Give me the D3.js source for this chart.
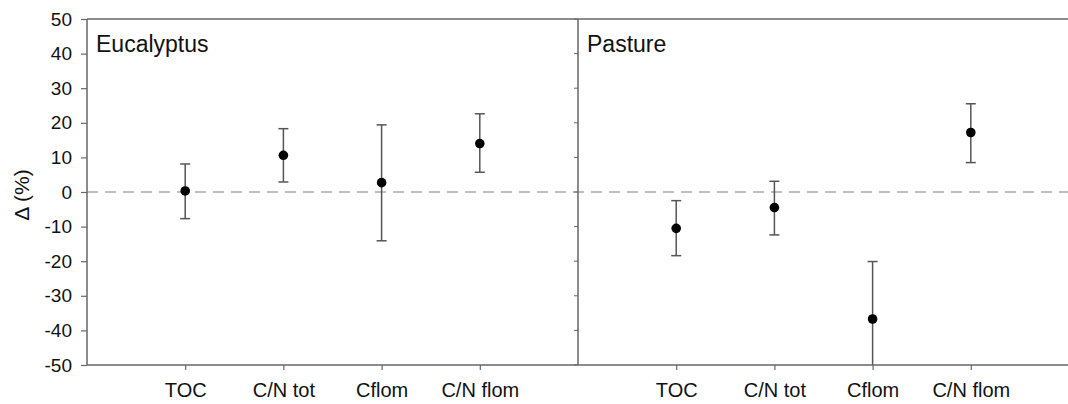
<!DOCTYPE html>
<html>
<head>
<meta charset="utf-8">
<script src="https://cdn.jsdelivr.net/npm/d3@7"></script>
<style>
  body { margin: 0; background: #fff; }
  text { font-family: "Liberation Sans", Arial, sans-serif; fill: #111; }
</style>
</head>
<body>
<svg id="chart" width="1068" height="404"></svg>
<script>
// data
var categories = ['TOC', 'C/N tot', 'Cflom', 'C/N flom'];
var panels = ['Eucalyptus', 'Pasture'];
var eucMean = [0.3, 10.6, 2.7, 14.0];
var eucHigh = [8.1, 18.3, 19.4, 22.6];
var eucLow = [-7.7, 2.9, -14.1, 5.7];
var pasMean = [-10.5, -4.5, -36.7, 17.2];
var pasHigh = [-2.5, 3.1, -20.1, 25.5];
var pasLow = [-18.4, -12.4, -60, 8.5];
var yTicks = [50, 40, 30, 20, 10, 0, -10, -20, -30, -40, -50];

var svg = d3.select('#chart');
var mLeft = 87, mTop = 19, mBottom = 365, panelW = 491;
var axisCol = '#666';
var font = '"Liberation Sans", Arial, sans-serif';

var y = d3.scaleLinear().domain([-50, 50]).range([mBottom, mTop]);

// clip so the long error bar stops at the axis
svg.append('defs').append('clipPath').attr('id', 'plotclip')
  .append('rect').attr('x', mLeft).attr('y', mTop)
  .attr('width', panelW * 2).attr('height', mBottom - mTop);

// zero reference line
svg.append('line')
  .attr('x1', mLeft).attr('x2', mLeft + panelW * 2)
  .attr('y1', y(0)).attr('y2', y(0))
  .attr('stroke', '#aaa').attr('stroke-width', 1.6)
  .attr('stroke-dasharray', '11,7');

var series = [
  {mean: eucMean, hi: eucHigh, lo: eucLow},
  {mean: pasMean, hi: pasHigh, lo: pasLow}
];

panels.forEach(function(name, p){
  var x0 = mLeft + p * panelW;
  var x = d3.scaleLinear().domain([0, 5]).range([x0, x0 + panelW]);
  var g = svg.append('g');

  // bottom axis ticks + labels
  var xa = d3.axisBottom(x).tickValues([1, 2, 3, 4])
    .tickFormat(function(d){ return categories[d - 1]; })
    .tickSize(5).tickPadding(13);
  var ax = g.append('g').attr('transform', 'translate(0,' + mBottom + ')').call(xa);
  ax.select('.domain').remove();
  ax.selectAll('line').attr('stroke', axisCol).attr('stroke-width', 1.2);
  ax.selectAll('text').attr('font-size', 20).attr('fill', '#111')
    .attr('font-family', font);

  // panel title
  g.append('text').attr('x', x0 + 9).attr('y', 52)
    .attr('font-size', 23).text(name);

  var s = series[p];
  var pts = g.append('g').attr('clip-path', 'url(#plotclip)');
  categories.forEach(function(c, i){
    var cx = x(i + 1);
    pts.append('line').attr('x1', cx).attr('x2', cx)
      .attr('y1', y(s.hi[i])).attr('y2', y(s.lo[i]))
      .attr('stroke', '#555').attr('stroke-width', 1.5);
    [s.hi[i], s.lo[i]].forEach(function(v){
      pts.append('line').attr('x1', cx - 5).attr('x2', cx + 5)
        .attr('y1', y(v)).attr('y2', y(v))
        .attr('stroke', '#555').attr('stroke-width', 1.5);
    });
    pts.append('circle').attr('cx', cx).attr('cy', y(s.mean[i]))
      .attr('r', 4.8).attr('fill', '#000');
  });
});

// left y axis (plain hyphen for negatives, like the original)
var ya = d3.axisLeft(y).tickValues(yTicks).tickSize(6).tickPadding(9)
  .tickFormat(function(d){ return String(d); });
var yg = svg.append('g').attr('transform', 'translate(' + mLeft + ',0)').call(ya);
yg.select('.domain').remove();
yg.selectAll('line').attr('stroke', axisCol).attr('stroke-width', 1.2);
yg.selectAll('text').attr('font-size', 19).attr('fill', '#111')
  .attr('font-family', font);

// ticks on the panel divider
svg.append('g').selectAll('line').data(yTicks).join('line')
  .attr('x1', mLeft + panelW - 4).attr('x2', mLeft + panelW)
  .attr('y1', function(d){ return y(d); }).attr('y2', function(d){ return y(d); })
  .attr('stroke', axisCol).attr('stroke-width', 1);

// frame lines
var frame = svg.append('g').attr('stroke', axisCol).attr('stroke-width', 1.5).attr('fill', 'none');
frame.append('line').attr('x1', mLeft).attr('x2', mLeft + panelW * 2).attr('y1', mTop).attr('y2', mTop);
frame.append('line').attr('x1', mLeft).attr('x2', mLeft + panelW * 2).attr('y1', mBottom).attr('y2', mBottom);
frame.append('line').attr('x1', mLeft).attr('x2', mLeft).attr('y1', mTop).attr('y2', mBottom);
frame.append('line').attr('x1', mLeft + panelW).attr('x2', mLeft + panelW).attr('y1', mTop).attr('y2', mBottom);

// y label
svg.append('text')
  .attr('transform', 'translate(29,195) rotate(-90)')
  .attr('text-anchor', 'middle').attr('font-size', 21)
  .text('\u0394 (%)');
</script>
</body>
</html>
